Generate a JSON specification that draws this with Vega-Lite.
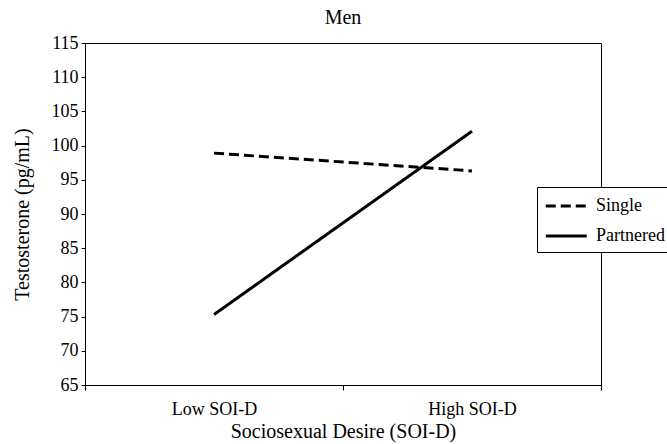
{
  "$schema": "https://vega.github.io/schema/vega-lite/v6.json",
  "width": 516,
  "height": 342,
  "autosize": "none",
  "padding": {"left": 85, "top": 43, "right": 66, "bottom": 59},
  "background": "white",
  "title": {
    "text": "Men",
    "font": "Liberation Serif",
    "fontSize": 20,
    "fontWeight": "normal",
    "color": "black",
    "anchor": "middle",
    "offset": 6
  },
  "config": {
    "font": "Liberation Serif",
    "view": {"stroke": "black", "strokeWidth": 1},
    "axis": {
      "labelFont": "Liberation Serif",
      "titleFont": "Liberation Serif",
      "labelColor": "black",
      "titleColor": "black",
      "domainColor": "black",
      "tickColor": "black",
      "titleFontWeight": "normal",
      "grid": false
    },
    "legend": {"labelFont": "Liberation Serif"}
  },
  "data": {
    "values": [
      {"soi": "Low SOI-D", "status": "Single", "t": 98.9},
      {"soi": "High SOI-D", "status": "Single", "t": 96.3},
      {"soi": "Low SOI-D", "status": "Partnered", "t": 75.3},
      {"soi": "High SOI-D", "status": "Partnered", "t": 102.1}
    ]
  },
  "mark": {"type": "line", "color": "black", "strokeWidth": 3},
  "encoding": {
    "x": {
      "field": "soi",
      "type": "nominal",
      "bandPosition": 0.5,
      "scale": {"type": "band", "domain": ["Low SOI-D", "High SOI-D"], "paddingInner": 0, "paddingOuter": 0},
      "axis": {
        "title": "Sociosexual Desire (SOI-D)",
        "titleFontSize": 20,
        "labelFont": "Liberation Serif",
        "labelFontSize": 18,
        "labelAngle": 0,
        "tickBand": "extent",
        "tickSize": 5,
        "labelPadding": 10,
        "titlePadding": 3
      }
    },
    "y": {
      "field": "t",
      "type": "quantitative",
      "scale": {"domain": [65, 115], "nice": false, "zero": false},
      "axis": {
        "title": "Testosterone (pg/mL)",
        "titleFontSize": 20,
        "labelFont": "Liberation Serif",
        "labelFontSize": 18,
        "values": [65, 70, 75, 80, 85, 90, 95, 100, 105, 110, 115],
        "tickSize": 4,
        "labelPadding": 3,
        "titlePadding": 19
      }
    },
    "strokeDash": {
      "field": "status",
      "type": "nominal",
      "scale": {"domain": ["Single", "Partnered"], "range": [[10, 5], [1, 0]]},
      "legend": {
        "title": null,
        "orient": "none",
        "legendX": 452,
        "legendY": 144,
        "strokeColor": "black",
        "fillColor": "white",
        "padding": 7,
        "labelFont": "Liberation Serif",
        "labelFontSize": 18,
        "labelColor": "black",
        "symbolType": "M-1,0L3,0",
        "symbolSize": 420,
        "symbolStrokeWidth": 3,
        "symbolStrokeColor": "black",
        "labelOffset": 28,
        "rowPadding": 9
      }
    }
  }
}
